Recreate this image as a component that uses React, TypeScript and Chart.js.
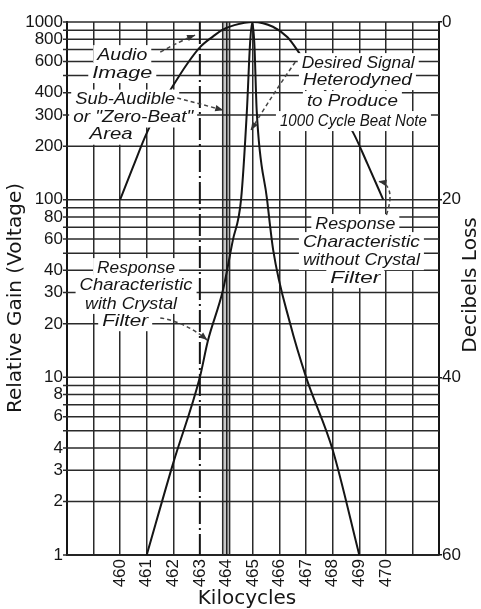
import React, { useEffect, useRef } from 'react';
import { Chart, registerables } from 'chart.js';

Chart.register(...registerables);

// ---- data ----
const broadKc = [460, 460.5, 461, 461.5, 462, 462.5, 463, 463.5, 463.83, 464.3, 465, 465.75, 466.3, 466.8, 467.5, 468, 468.76, 469.3, 469.9];
const broadGain = [100, 155, 237, 330, 440, 575, 720, 830, 900, 960, 1000, 940, 820, 650, 460, 355, 240, 160, 100];

const crystalKc = [461, 462, 463, 463.3, 463.87, 464.24, 464.55, 464.77, 464.89, 464.97, 465.05, 465.14, 465.53, 465.76, 466.4, 467, 468, 469];
const crystalGain = [1, 3.3, 10, 16, 31, 59, 100, 316, 760, 1000, 760, 316, 100, 52, 20, 10, 3.9, 1];

const xTickLabels = [460, 461, 462, 463, 464, 465, 466, 467, 468, 469, 470];
const yGridValues = [1, 2, 3, 4, 5, 6, 7, 8, 9, 10, 20, 30, 40, 50, 60, 70, 80, 90, 100, 200, 300, 400, 500, 600, 700, 800, 900, 1000];
const yTickLabels = [1, 2, 3, 4, 6, 8, 10, 20, 30, 40, 60, 80, 100, 200, 300, 400, 600, 800, 1000];
const dbTickLabels = [0, 20, 40, 60];

const kcMin = 458;
const kcMax = 472;
const gainMin = 1;
const gainMax = 1000;
const audioImageKc = 463;
const zeroBeatBand = [463.86, 464.12];

// text notes: text, centre kc, centre gain, target width px
const noteLines: [string, number, number, number][] = [
  ['Audio', 460.08, 651, 50],
  ['Image', 460.08, 516, 60],
  ['Sub-Audible', 460.19, 366, 100],
  ['or "Zero-Beat"', 460.49, 290, 120],
  ['Area', 459.66, 232, 43],
  ['Desired Signal', 468.96, 587, 113],
  ['Heterodyned', 468.93, 471, 109],
  ['to Produce', 468.74, 359, 91],
  ['1000 Cycle Beat Note', 468.78, 277, 147],
  ['Response', 468.85, 72.9, 80],
  ['Characteristic', 469.08, 57.7, 117],
  ['without Crystal', 469.08, 45.7, 117],
  ['Filter', 468.85, 36.2, 50],
  ['Response', 460.6, 41.2, 78],
  ['Characteristic', 460.6, 33.1, 113],
  ['with Crystal', 460.41, 25.9, 92],
  ['Filter', 460.19, 20.7, 46],
];

// arrows: start, control, end (kc, gain)
const noteArrows: [number, number][][] = [
  [[461.51, 677], [462.26, 781], [462.82, 844]],
  [[462.15, 373], [463.0, 346], [463.88, 319]],
  [[466.59, 595], [465.8, 403], [464.92, 246]],
  [[470.02, 81.9], [470.4, 121], [469.72, 127]],
  [[461.51, 21.6], [462.45, 20.5], [463.28, 16.2]],
];

const INK = '#151515';
const GRID = '#2a2a2a';
const TICK_FONT = { family: '"Liberation Sans", Arial, sans-serif', size: 17 };

const paperPlugin = {
  id: 'paper',
  beforeDatasetsDraw(chart: any) {
    const { ctx, chartArea, scales } = chart;
    const { top, bottom, left, right } = chartArea;
    const x = scales.x;
    const y = scales.y;
    ctx.save();
    // horizontal grid lines with short ticks outside the left border
    ctx.strokeStyle = GRID;
    ctx.lineWidth = 1.5;
    yGridValues.forEach((v) => {
      const p = y.getPixelForValue(v);
      ctx.beginPath();
      ctx.moveTo(left - 4, p);
      ctx.lineTo(right, p);
      ctx.stroke();
    });
    const a = x.getPixelForValue(zeroBeatBand[0]);
    const b = x.getPixelForValue(zeroBeatBand[1]);
    ctx.fillStyle = 'rgba(0,0,0,0.22)';
    ctx.fillRect(a, top, b - a, bottom - top);
    [a, b].forEach((p) => {
      ctx.beginPath();
      ctx.moveTo(p, top);
      ctx.lineTo(p, bottom);
      ctx.stroke();
    });
    const c = x.getPixelForValue(audioImageKc);
    ctx.setLineDash([22, 4, 2, 4]);
    ctx.lineWidth = 2;
    ctx.strokeStyle = INK;
    ctx.beginPath();
    ctx.moveTo(c, top);
    ctx.lineTo(c, bottom);
    ctx.stroke();
    ctx.restore();
  },
  afterDatasetsDraw(chart: any) {
    const { ctx, scales } = chart;
    const X = (v: number) => scales.x.getPixelForValue(v);
    const Y = (v: number) => scales.y.getPixelForValue(v);
    ctx.save();
    ctx.font = 'italic 17px "Liberation Sans", Arial, sans-serif';
    ctx.fillStyle = '#fff';
    noteLines.forEach(([t, kc, g, w]) => {
      const cx = X(kc);
      const cy = Y(g);
      ctx.fillRect(cx - w / 2 - 4, cy - 10, w + 8, 20);
    });
    ctx.strokeStyle = '#444';
    ctx.fillStyle = '#333';
    ctx.lineWidth = 1.5;
    noteArrows.forEach(([p0, p1, p2]) => {
      const a = [X(p0[0]), Y(p0[1])];
      const m = [X(p1[0]), Y(p1[1])];
      const e = [X(p2[0]), Y(p2[1])];
      ctx.setLineDash([4, 3]);
      ctx.beginPath();
      ctx.moveTo(a[0], a[1]);
      ctx.quadraticCurveTo(m[0], m[1], e[0], e[1]);
      ctx.stroke();
      ctx.setLineDash([]);
      const ang = Math.atan2(e[1] - m[1], e[0] - m[0]);
      const L = 8;
      const W = 3.2;
      const cs = Math.cos(ang);
      const sn = Math.sin(ang);
      ctx.beginPath();
      ctx.moveTo(e[0], e[1]);
      ctx.lineTo(e[0] - L * cs + W * sn, e[1] - L * sn - W * cs);
      ctx.lineTo(e[0] - L * cs - W * sn, e[1] - L * sn + W * cs);
      ctx.closePath();
      ctx.fill();
    });
    ctx.fillStyle = INK;
    ctx.textAlign = 'center';
    ctx.textBaseline = 'middle';
    noteLines.forEach(([t, kc, g, w]) => {
      const cx = X(kc);
      const cy = Y(g);
      const mw = ctx.measureText(t).width;
      ctx.save();
      ctx.translate(cx, cy);
      ctx.scale(w / mw, 1);
      ctx.fillText(t, 0, 0);
      ctx.restore();
    });
    ctx.restore();
  },
  afterDraw(chart: any) {
    const { ctx, chartArea } = chart;
    ctx.save();
    ctx.fillStyle = INK;
    ctx.font = '20px "DejaVu Sans", sans-serif';
    ctx.textAlign = 'center';
    ctx.textBaseline = 'alphabetic';
    ctx.save();
    ctx.translate(21, 298);
    ctx.rotate(-Math.PI / 2);
    ctx.fillText('Relative Gain (Voltage)', 0, 0);
    ctx.restore();
    ctx.save();
    ctx.translate(476, 285);
    ctx.rotate(-Math.PI / 2);
    ctx.fillText('Decibels Loss', 0, 0);
    ctx.restore();
    ctx.textBaseline = 'middle';
    ctx.fillText('Kilocycles', (chartArea.left + chartArea.right) / 2 - 6, 599);
    ctx.restore();
  },
};

export default function App() {
  const ref = useRef<HTMLCanvasElement>(null);
  useEffect(() => {
    if (!ref.current) return;
    const chart = new Chart(ref.current, {
      type: 'line',
      data: {
        datasets: [
          {
            label: 'without crystal filter',
            data: broadKc.map((k, i) => ({ x: k, y: broadGain[i] })),
            borderColor: INK,
            borderWidth: 2,
            pointRadius: 0,
            fill: false,
            cubicInterpolationMode: 'monotone',
          },
          {
            label: 'with crystal filter',
            data: crystalKc.map((k, i) => ({ x: k, y: crystalGain[i] })),
            borderColor: INK,
            borderWidth: 2,
            pointRadius: 0,
            fill: false,
            cubicInterpolationMode: 'monotone',
          },
        ],
      },
      options: {
        responsive: false,
        animation: false,
        events: [],
        layout: { padding: { top: 22, left: 0, right: 0, bottom: 0 } },
        plugins: { legend: { display: false }, tooltip: { enabled: false } },
        scales: {
          x: {
            type: 'linear',
            min: kcMin,
            max: kcMax,
            afterFit: (s: any) => {
              s.height = 54;
            },
            grid: {
              color: (c: any) => (c.tick && c.tick.value === audioImageKc ? 'rgba(0,0,0,0)' : GRID),
              lineWidth: 1.5,
              drawTicks: false,
            },
            border: { color: INK, width: 2 },
            ticks: {
              stepSize: 1,
              autoSkip: false,
              maxRotation: 90,
              minRotation: 90,
              padding: 4,
              color: INK,
              font: TICK_FONT,
              callback: (v: any) => (xTickLabels.includes(Number(v)) ? String(v) : ''),
            },
          },
          y: {
            type: 'logarithmic',
            position: 'left',
            min: gainMin,
            max: gainMax,
            afterBuildTicks: (s: any) => {
              s.ticks = yTickLabels.map((v) => ({ value: v }));
            },
            afterFit: (s: any) => {
              s.width = 67;
            },
            grid: { display: false, drawTicks: false },
            border: { color: INK, width: 2 },
            ticks: {
              autoSkip: false,
              padding: 4,
              color: INK,
              font: TICK_FONT,
              callback: (v: any) => String(v),
            },
          },
          y2: {
            type: 'linear',
            position: 'right',
            min: 0,
            max: 60,
            reverse: true,
            afterFit: (s: any) => {
              s.width = 42;
            },
            grid: { drawOnChartArea: false, color: INK, tickLength: 3, lineWidth: 1.5 },
            border: { color: INK, width: 2 },
            ticks: {
              stepSize: 20,
              autoSkip: false,
              padding: 0,
              color: INK,
              font: TICK_FONT,
              callback: (v: any) => (dbTickLabels.includes(Number(v)) ? String(v) : ''),
            },
          },
        },
      } as any,
      plugins: [paperPlugin],
    });
    return () => chart.destroy();
  }, []);
  return (
    <div style={{ position: 'absolute', left: 0, top: 0, width: 481, height: 609, background: '#fff' }}>
      <canvas ref={ref} width={481} height={609} style={{ display: 'block' }} />
    </div>
  );
}
